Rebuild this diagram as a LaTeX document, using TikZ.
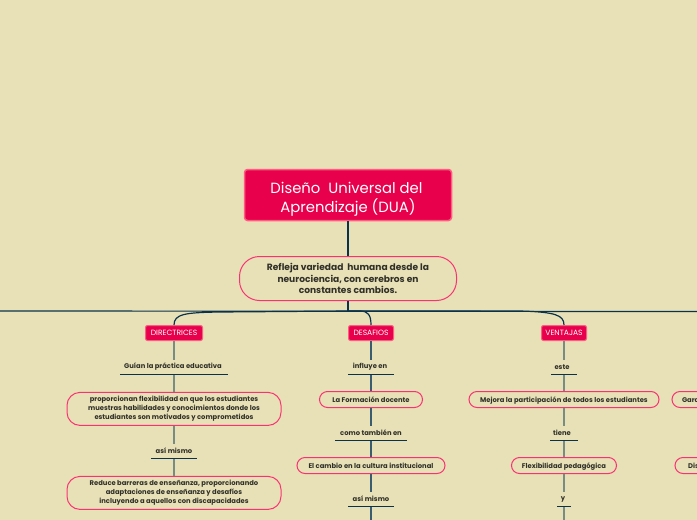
\documentclass[tikz,border=0pt]{standalone}
\usepackage{fontspec}
\setmainfont{Poppins}
\usetikzlibrary{positioning, calc}
\definecolor{paper}{RGB}{232,225,183}
\definecolor{duared}{RGB}{232,0,76}
\definecolor{duaedge}{RGB}{255,92,130}
\definecolor{duapill}{RGB}{250,50,115}
\definecolor{duaink}{RGB}{48,48,40}
\definecolor{dualine}{RGB}{10,50,75}
\definecolor{duagrey}{RGB}{120,140,130}
\tikzset{
    titlebox/.style={draw=duaedge, line width=1.5pt, fill=duared, text=white, rounded corners=3pt, minimum width=207pt, minimum height=51pt, align=center, font=\fontsize{14.8}{19}\selectfont},
    topicbox/.style={draw=duaedge, line width=1pt, fill=duared, text=white, rounded corners=2pt, minimum height=15pt, inner sep=0pt, text height=5.6pt, text depth=0pt, font=\fontsize{7.6}{8}\selectfont},
    pillbox/.style={draw=duapill, line width=1pt, rounded corners=8pt, minimum height=16pt, inner sep=0pt, align=center, text=duaink, font=\fontsize{6.8}{9}\selectfont\bfseries},
    oneline/.style={text height=6pt, text depth=0pt},
    linkword/.style={text=duaink, inner sep=0pt, font=\fontsize{6.8}{8}\selectfont\bfseries},
    rule/.style={dualine, line width=0.8pt},
    branch/.style={dualine, line width=1.2pt},
    stem/.style={duagrey, line width=1.4pt},
}
\begin{document}
\begin{tikzpicture}[x=1pt, y=-1pt]
    \useasboundingbox[fill=paper] (0,0) rectangle (697,520);

    % Centre of the map
    \node[titlebox] (title) at (348,195) {\rule{0pt}{19pt}Diseño\ \ Universal del\hspace*{3pt}\\Aprendizaje (DUA)};
    \node[pillbox, minimum width=217pt, minimum height=44pt, rounded corners=20pt, font=\fontsize{9.1}{11.6}\selectfont\bfseries] (intro) at (348,278.5) {Refleja variedad\ \ humana desde la\\neurociencia, con cerebros en\\constantes cambios.};
    \coordinate (hub) at (348,311);
    \coordinate (westend) at (0,311);
    \coordinate (eastend) at (697,311.5);
    \draw[branch] (title) -- (intro);
    \draw[branch] (intro) -- (hub);
    \draw[branch] (westend) -- (eastend);

    % Branch heads
    \node[topicbox, minimum width=57pt] (directrices) at (174,333) {DIRECTRICES};
    \node[topicbox, minimum width=45pt] (desafios) at (371,333) {DESAFIOS};
    \node[topicbox, minimum width=45pt] (ventajas) at (564,333) {VENTAJAS};
    \draw[branch] (hub) -- (220,312) .. controls (185,312.5) and (174,314) .. (directrices.north);
    \draw[branch] (hub) -- (360,311) .. controls (368,311) and (371,315) .. (desafios.north);
    \draw[branch] (hub) -- (520,311) .. controls (555,312) and (564,315) .. (ventajas.north);

    % DIRECTRICES
    \node[linkword] (guian) at (173,367) {Guían la práctica educativa};
    \node[pillbox, minimum width=214pt, minimum height=33pt, rounded corners=13pt, yshift=-0.4pt] (flexi) at (174,408.5) {proporcionan flexibilidad en que los estudiantes\\muestras habilidades y conocimientos donde los\\estudiantes son motivados y comprometidos};
    \node[linkword] (asia) at (174,451) {así mismo};
    \node[pillbox, minimum width=214pt, minimum height=33pt, rounded corners=13pt, yshift=-0.4pt] (barreras) at (174,492.5) {Reduce barreras de enseñanza, proporcionando\\adaptaciones de enseñanza y desafíos\\incluyendo a aquellos con discapacidades};
    \draw[rule] (120,374.5) -- (228,374.5);
    \draw[rule] (151,458.5) -- (197,458.5);
    \draw[stem] (directrices) -- (174,360);
    \draw[stem] (174,375) -- (flexi);
    \draw[stem] (flexi) -- (174,444);
    \draw[stem] (174,459) -- (barreras);

    % DESAFIOS
    \node[linkword] (influye) at (370,367) {influye en};
    \node[pillbox, oneline, minimum width=103pt] (formacion) at (371,399.5) {La Formación docente};
    \node[linkword] (como) at (371,433) {como también en};
    \node[pillbox, oneline, minimum width=148pt] (cultura) at (371,465.5) {El cambio en la cultura institucional};
    \node[linkword] (asib) at (371,499) {así mismo};
    \draw[rule] (348,374.5) -- (394,374.5);
    \draw[rule] (335,440.5) -- (407,440.5);
    \draw[rule] (348,506.5) -- (394,506.5);
    \draw[branch, dualine!80] (desafios) -- (371,360);
    \draw[branch, dualine!80] (371,375) -- (formacion);
    \draw[branch, dualine!80] (formacion) -- (371,426);
    \draw[branch, dualine!80] (371,441) -- (cultura);
    \draw[branch, dualine!80] (cultura) -- (371,492);
    \draw[branch, dualine!80] (371,507) -- (371,520);

    % VENTAJAS
    \node[linkword] (este) at (562,367) {este};
    \node[pillbox, oneline, minimum width=190pt] (mejora) at (564,399.5) {Mejora la participación de todos los estudiantes};
    \node[linkword] (tiene) at (562,433) {tiene};
    \node[pillbox, oneline, minimum width=105pt] (pedagogica) at (564,465.5) {Flexibilidad pedagógica};
    \node[linkword] (yword) at (563,499.5) {y};
    \draw[rule] (551,374.5) -- (577,374.5);
    \draw[rule] (550,440.5) -- (578,440.5);
    \draw[rule] (557,506.5) -- (571,506.5);
    \draw[stem] (ventajas) -- (564,360);
    \draw[stem] (564,375) -- (mejora);
    \draw[stem] (mejora) -- (564,426);
    \draw[stem] (564,441) -- (pedagogica);
    \draw[stem] (pedagogica) -- (564,492);
    \draw[stem] (564,507) -- (564,520);

    % Right edge, cut off by the page
    \begin{scope}
        \clip (0,0) rectangle (697,520);
        \node[pillbox, oneline, minimum width=100pt, anchor=west] (garantiza) at (671.5,399.5) {\hspace*{10pt}Garantiza\hspace*{60pt}};
        \node[pillbox, oneline, minimum width=100pt, anchor=west] (diseno) at (674.5,465.5) {\hspace*{10pt}Diseño\hspace*{60pt}};
    \end{scope}
\end{tikzpicture}
\end{document}
